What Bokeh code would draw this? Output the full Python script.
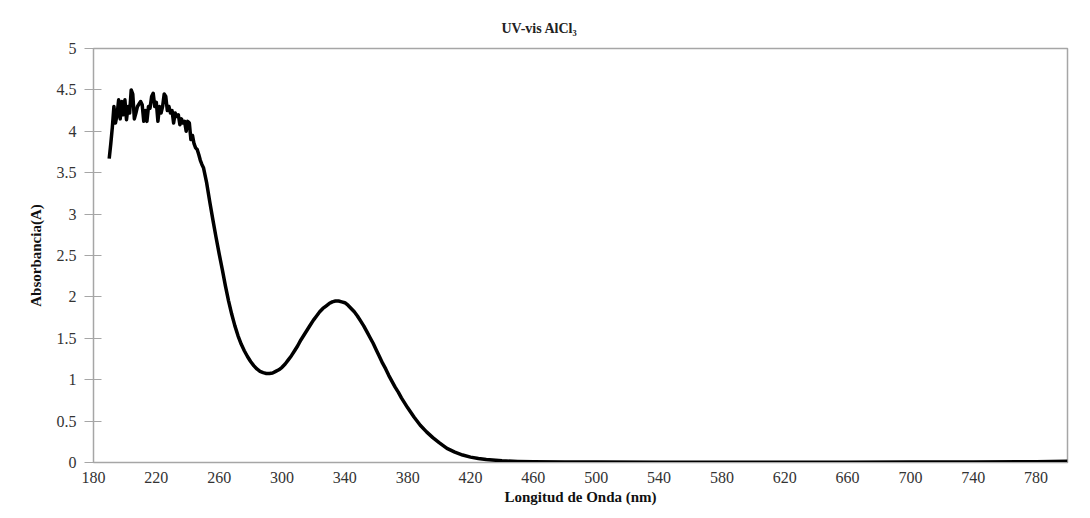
from bokeh.plotting import figure
from bokeh.models import Range1d, FixedTicker, ColumnDataSource
from bokeh.embed import file_html
from bokeh.resources import INLINE

# ---- data ----
wavelength_nm = [
    190, 191, 192, 193, 194, 195, 196, 197, 198, 199,
    200, 201, 202, 203, 204, 205, 206, 207, 208, 209,
    210, 211, 212, 213, 214, 215, 216, 217, 218, 219,
    220, 221, 222, 223, 224, 225, 226, 227, 228, 229,
    230, 231, 232, 233, 234, 235, 236, 237, 238, 239,
    240, 241, 242, 243, 244, 245, 246, 247, 248, 249,
    250, 252, 254, 256, 258, 260, 262, 264, 266, 268,
    270, 272, 274, 276, 278, 280, 282, 284, 286, 288,
    290, 292, 294, 296, 298, 300, 302, 304, 306, 308,
    310, 312, 314, 316, 318, 320, 322, 324, 326, 328,
    330, 332, 334, 336, 338, 340, 342, 344, 346, 348,
    350, 352, 354, 356, 358, 360, 362, 364, 366, 368,
    370, 372, 374, 376, 378, 380, 384, 388, 392, 396,
    400, 405, 410, 415, 420, 425, 430, 440, 450, 460,
    480, 500, 540, 580, 620, 660, 700, 740, 780, 800,
]
absorbance = [
    3.67, 3.85, 4.05, 4.30, 4.10, 4.20, 4.38, 4.15, 4.36, 4.20,
    4.38, 4.14, 4.30, 4.22, 4.50, 4.45, 4.15, 4.22, 4.30, 4.33,
    4.36, 4.32, 4.12, 4.25, 4.12, 4.30, 4.28, 4.42, 4.46, 4.30,
    4.35, 4.12, 4.30, 4.22, 4.30, 4.45, 4.42, 4.25, 4.30, 4.22,
    4.25, 4.10, 4.22, 4.18, 4.20, 4.08, 4.15, 4.10, 4.12, 4.00,
    4.12, 4.10, 3.90, 3.95, 3.85, 3.80, 3.78, 3.72, 3.65, 3.60,
    3.56, 3.38, 3.15, 2.93, 2.72, 2.52, 2.33, 2.13, 1.95, 1.79,
    1.65, 1.53, 1.43, 1.35, 1.28, 1.22, 1.17, 1.13, 1.10, 1.085,
    1.075, 1.075, 1.08, 1.10, 1.12, 1.15, 1.19, 1.24, 1.29, 1.35,
    1.41, 1.48, 1.54, 1.60, 1.66, 1.72, 1.77, 1.82, 1.86, 1.89,
    1.92, 1.94, 1.95, 1.95, 1.94, 1.93, 1.90, 1.86, 1.82, 1.77,
    1.71, 1.65, 1.58, 1.51, 1.44, 1.36, 1.28, 1.20, 1.13, 1.05,
    0.98, 0.91, 0.85, 0.78, 0.72, 0.66, 0.55, 0.45, 0.37, 0.30,
    0.24, 0.17, 0.125, 0.09, 0.065, 0.048, 0.035, 0.02, 0.013, 0.009,
    0.006, 0.005, 0.004, 0.004, 0.004, 0.004, 0.005, 0.007, 0.010, 0.014,
]
x_ticks = [180, 220, 260, 300, 340, 380, 420, 460, 500, 540, 580, 620, 660, 700, 740, 780]
y_ticks = [0, 0.5, 1, 1.5, 2, 2.5, 3, 3.5, 4, 4.5, 5]
y_tick_labels = ["0", "0.5", "1", "1.5", "2", "2.5", "3", "3.5", "4", "4.5", "5"]
title_text = "UV-vis AlCl\u2083"
x_label = "Longitud de Onda (nm)"
y_label = "Absorbancia(A)"

FONT = "Liberation Serif"
GRAY = "#a6a6a6"

p = figure(width=1090, height=518, output_backend="svg", toolbar_location=None,
           x_range=Range1d(180, 800), y_range=Range1d(0, 5),
           min_border_left=93, min_border_right=23, min_border_top=48, min_border_bottom=56)

src = ColumnDataSource(dict(x=wavelength_nm, y=absorbance))
p.line("x", "y", source=src, line_color="black", line_width=3.5, line_join="round")

p.title.text = title_text
p.title.align = "left"
p.title.offset = 408
p.title.vertical_align = "top"
p.title.text_font = FONT
p.title.text_font_size = "14px"
p.title.text_font_style = "bold"
p.title.text_color = "#222222"
p.title.standoff = 22

p.xgrid.visible = False
p.ygrid.visible = False
p.outline_line_color = GRAY
p.outline_line_width = 1.5

xa = p.xaxis[0]
xa.ticker = FixedTicker(ticks=x_ticks)
xa.axis_line_color = GRAY
xa.major_tick_line_color = None
xa.minor_tick_line_color = None
xa.major_tick_out = 0
xa.major_tick_in = 0
xa.major_label_standoff = 9
xa.major_label_text_font = FONT
xa.major_label_text_font_size = "16px"
xa.major_label_text_color = "#333333"
xa.axis_label = x_label
xa.axis_label_text_font = FONT
xa.axis_label_text_font_size = "15px"
xa.axis_label_text_font_style = "bold"
xa.axis_label_text_color = "#111111"
xa.axis_label_standoff = 3

ya = p.yaxis[0]
ya.ticker = FixedTicker(ticks=y_ticks)
ya.major_label_overrides = {t: s for t, s in zip(y_ticks, y_tick_labels)}
ya.axis_line_color = GRAY
ya.major_tick_line_color = GRAY
ya.major_tick_out = 9
ya.major_tick_in = 8
ya.minor_tick_line_color = None
ya.major_label_standoff = 8
ya.major_label_text_font = FONT
ya.major_label_text_font_size = "16px"
ya.major_label_text_color = "#333333"
ya.axis_label = y_label
ya.axis_label_text_font = FONT
ya.axis_label_text_font_size = "15px"
ya.axis_label_text_font_style = "bold"
ya.axis_label_text_color = "#111111"
ya.axis_label_standoff = 10

open("out.html", "w").write(file_html(p, INLINE))
